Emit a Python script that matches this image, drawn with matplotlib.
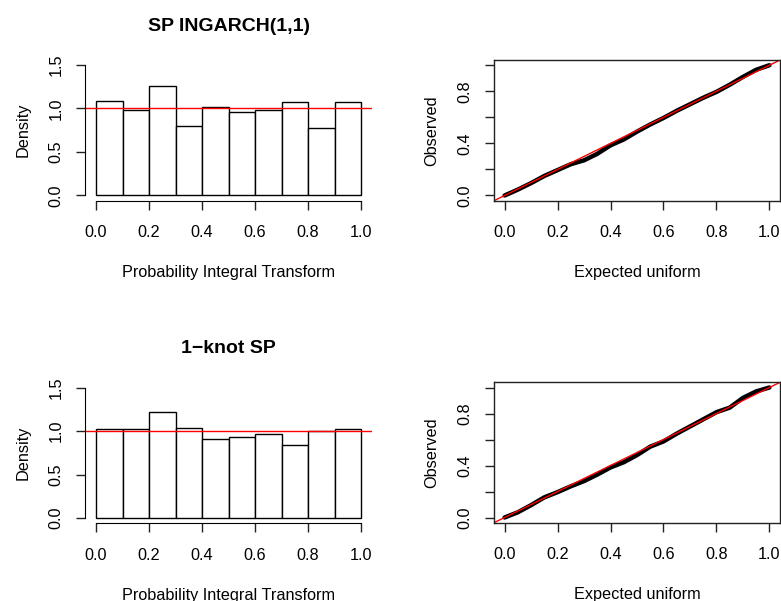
import matplotlib
matplotlib.use("Agg")
import matplotlib.pyplot as plt
import numpy as np

plt.rcParams['font.family'] = ['Liberation Sans', 'DejaVu Sans']

# histogram of PIT values, 10 equal bins on [0, 1]
breaks = [0.0, 0.1, 0.2, 0.3, 0.4, 0.5, 0.6, 0.7, 0.8, 0.9, 1.0]
dens_ingarch = [1.09, 0.98, 1.26, 0.80, 1.02, 0.96, 0.98, 1.07, 0.78, 1.07]
dens_knot = [1.02, 1.02, 1.22, 1.04, 0.91, 0.93, 0.97, 0.84, 1.00, 1.02]

# uniform QQ: expected vs observed quantiles
expected = [0.0, 0.05, 0.1, 0.15, 0.2, 0.25, 0.3, 0.35, 0.4, 0.45, 0.5,
            0.55, 0.6, 0.65, 0.7, 0.75, 0.8, 0.85, 0.9, 0.95, 1.0]
obs_ingarch = [0.0, 0.045, 0.095, 0.15, 0.195, 0.24, 0.27, 0.32, 0.385, 0.43, 0.49,
               0.545, 0.595, 0.65, 0.70, 0.75, 0.795, 0.85, 0.91, 0.965, 1.0]
obs_knot = [0.0, 0.04, 0.095, 0.155, 0.195, 0.24, 0.28, 0.33, 0.385, 0.425, 0.48,
            0.545, 0.585, 0.645, 0.70, 0.755, 0.81, 0.845, 0.92, 0.97, 1.0]

titles = ["SP INGARCH(1,1)", "1\u2212knot SP"]

W, H = 781, 601
fig = plt.figure(figsize=(W / 100, H / 100), dpi=100)


def px_axes(left, top, right, bottom):
    return fig.add_axes([left / W, 1 - bottom / H, (right - left) / W, (bottom - top) / H])


FS = 11.7
tick_kw = dict(direction='out', length=6.5, width=1.0, labelsize=FS, color='#222222')


def hist_panel(ax, dens, title):
    widths = np.diff(breaks)
    ax.bar(breaks[:-1], dens, width=widths, align='edge', color='white',
           edgecolor='black', linewidth=1.0)
    ax.axhline(1.0, color='red', linewidth=1.0)
    ax.set_xlim(-0.04, 1.04)
    ax.set_ylim(-0.06, 1.56)
    for s in ['top', 'right']:
        ax.spines[s].set_visible(False)
    ax.spines['left'].set_bounds(0, 1.5)
    ax.spines['bottom'].set_bounds(0, 1)
    ax.set_xticks([0, 0.2, 0.4, 0.6, 0.8, 1.0])
    ax.set_xticklabels(['0.0', '0.2', '0.4', '0.6', '0.8', '1.0'])
    ax.set_yticks([0, 0.5, 1.0, 1.5])
    ax.set_yticklabels(['0.0', '0.5', '1.0', '1.5'], rotation=90, va='center')
    ax.tick_params(axis='x', pad=11, **tick_kw)
    ax.tick_params(axis='y', pad=9, **tick_kw)
    ax.set_xlabel('Probability Integral Transform', fontsize=FS, labelpad=18)
    ax.set_ylabel('Density', fontsize=FS, labelpad=13)
    ax.set_title(title, fontsize=FS * 1.2, fontweight='bold', pad=21)


def qq_panel(ax, obs):
    ax.plot(expected, obs, color='black', linewidth=3.2, solid_capstyle='round',
            solid_joinstyle='round')
    ax.plot([-0.1, 1.1], [-0.1, 1.1], color='red', linewidth=1.0)
    ax.set_xlim(-0.04, 1.04)
    ax.set_ylim(-0.04, 1.04)
    ax.set_xticks([0, 0.2, 0.4, 0.6, 0.8, 1.0])
    ax.set_xticklabels(['0.0', '0.2', '0.4', '0.6', '0.8', '1.0'])
    ax.set_yticks([0, 0.2, 0.4, 0.6, 0.8, 1.0])
    ax.set_yticklabels(['0.0', '', '0.4', '', '0.8', ''], rotation=90, va='center')
    ax.tick_params(axis='x', pad=11, **tick_kw)
    ax.tick_params(axis='y', pad=9, **tick_kw)
    for s in ax.spines.values():
        s.set_color('#222222')
        s.set_linewidth(1.0)
    ax.set_xlabel('Expected uniform', fontsize=FS, labelpad=18)
    ax.set_ylabel('Observed', fontsize=FS, labelpad=13)


ax1 = px_axes(85.4, 59.7, 371.6, 200.7)
hist_panel(ax1, dens_ingarch, titles[0])
ax2 = px_axes(494, 60, 780, 200.7)
qq_panel(ax2, obs_ingarch)
ax3 = px_axes(85.4, 382.4, 371.6, 523.2)
hist_panel(ax3, dens_knot, titles[1])
ax4 = px_axes(494, 382.3, 780, 522.7)
qq_panel(ax4, obs_knot)

fig.savefig('out.png', dpi=100)
